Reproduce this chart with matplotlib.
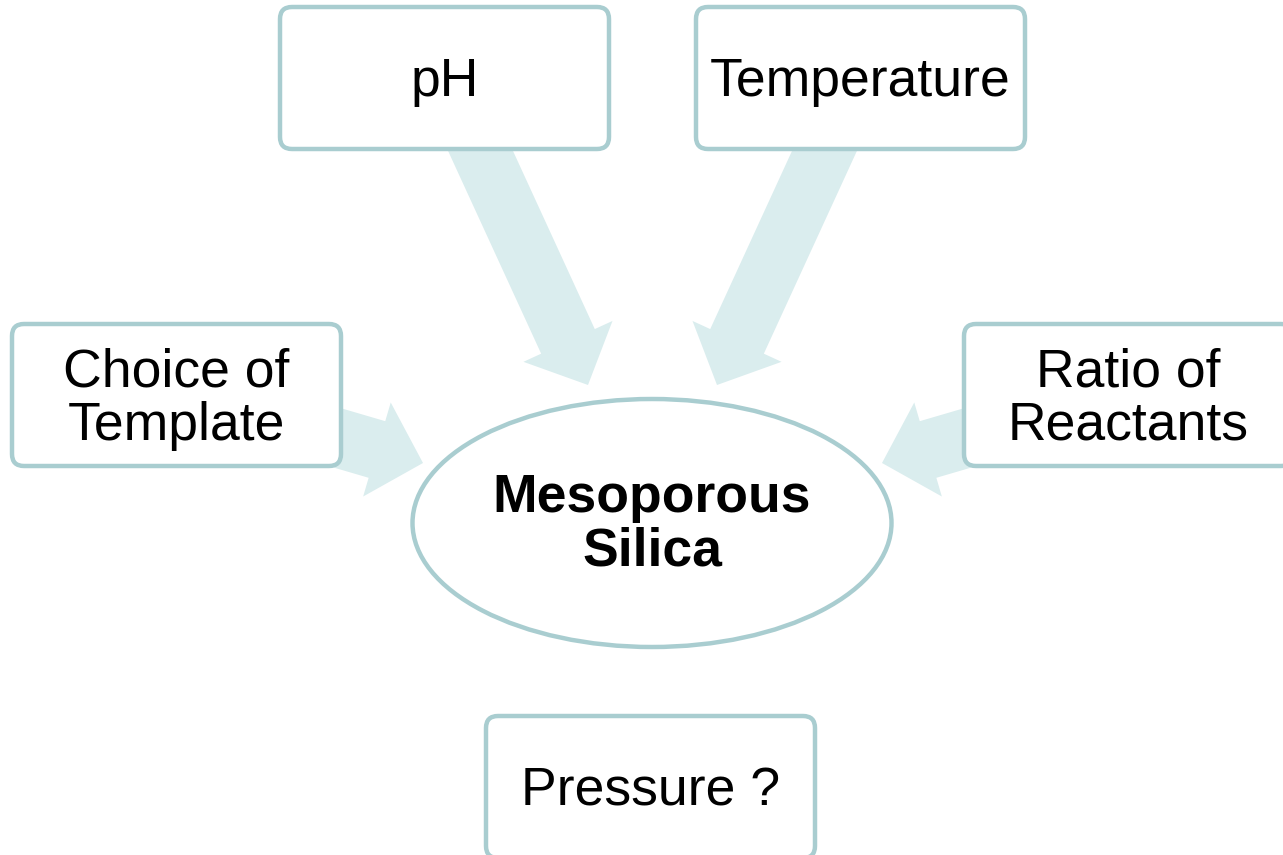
import matplotlib.pyplot as plt
from matplotlib.patches import FancyBboxPatch, Ellipse, FancyArrow

plt.rcParams['font.family'] = ['Liberation Sans', 'DejaVu Sans']

# Texts of the diagram
factors = ['pH', 'Temperature', 'Choice of\nTemplate', 'Ratio of\nReactants', 'Pressure ?']
centre_label = 'Mesoporous\nSilica'

# Layout (pixel coordinates, y downwards)
box_xy = [(280, 7), (696, 7), (12, 324), (964, 324), (486, 716)]
box_w, box_h = 329, 142
# arrows: start, tip
arrow_start = [(470, 128), (835, 128), (290, 424), (1015, 424)]
arrow_tip = [(588, 385), (717, 385), (423, 463), (882, 463)]

edge_col = '#A9CDD0'
arrow_col = '#DAEDEE'

fig = plt.figure(figsize=(12.83, 8.55), dpi=100)
ax = fig.add_axes([0, 0, 1, 1])
ax.set_xlim(0, 1283)
ax.set_ylim(855, 0)
ax.axis('off')

# Block arrows
for (x0, y0), (x1, y1) in zip(arrow_start, arrow_tip):
    ax.add_patch(FancyArrow(x0, y0, x1 - x0, y1 - y0, width=59, head_width=98,
                            head_length=48, length_includes_head=True,
                            color=arrow_col, lw=0, zorder=1))

# Boxes
for (x, y), txt in zip(box_xy, factors):
    ax.add_patch(FancyBboxPatch((x + 12, y + 12), box_w - 24, box_h - 24,
                                boxstyle='round,pad=12', fc='white', ec=edge_col,
                                lw=3.2, zorder=2))
    ax.text(x + box_w / 2, y + box_h / 2 + 4, txt, ha='center', va='center',
            fontsize=38.5, linespacing=1.08, zorder=3)

# Central ellipse
ax.add_patch(Ellipse((652, 523), 479, 248, fc='white', ec=edge_col, lw=3.2, zorder=2))
ax.text(652, 525, centre_label, ha='center', va='center', fontsize=38.5,
        fontweight='bold', linespacing=1.08, zorder=3)

fig.savefig('out.png', dpi=100)
